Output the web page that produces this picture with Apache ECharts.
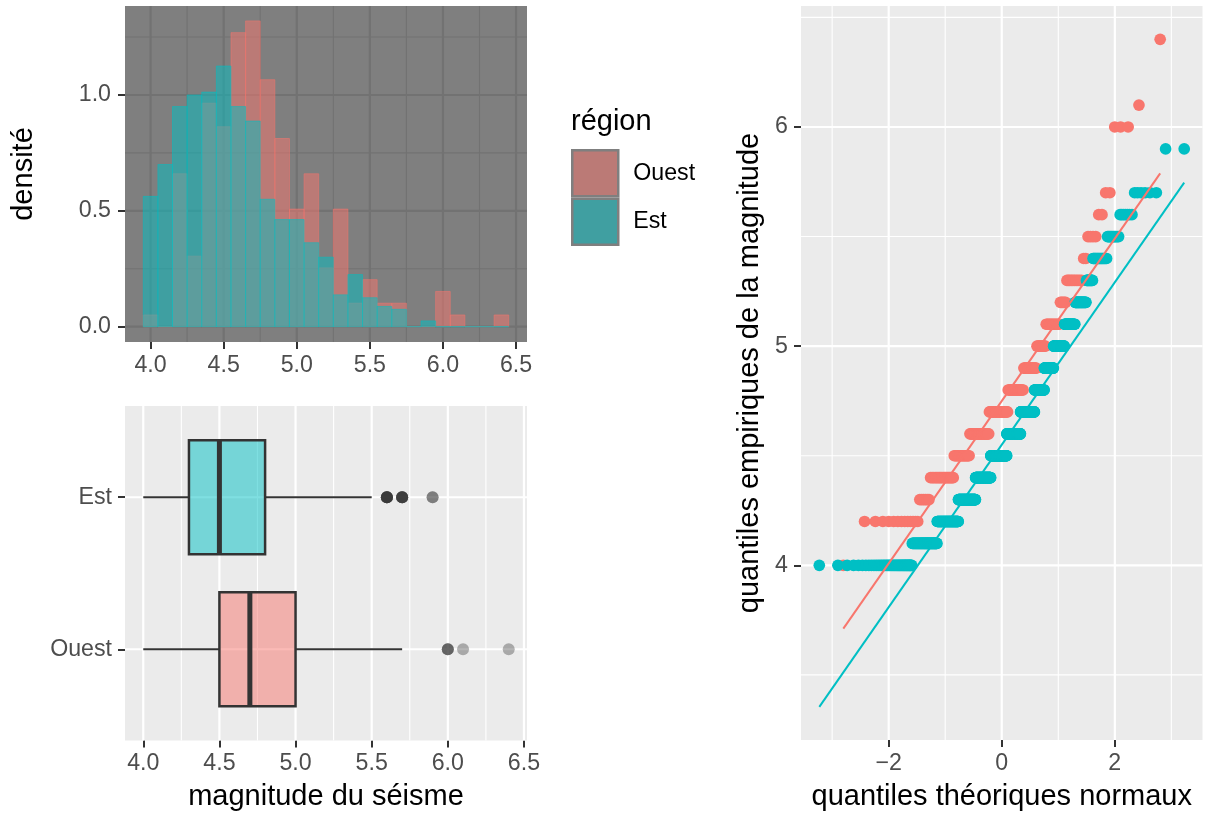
<!DOCTYPE html>
<html><head><meta charset="utf-8">
<script src="https://cdn.jsdelivr.net/npm/echarts@6/dist/echarts.min.js"></script>
<style>html,body{margin:0;padding:0;background:#fff}#c{width:1205px;height:816px}</style>
</head><body><div id="c"></div>
<script>
// ---------------- data ----------------
const regions = ['Ouest', 'Est'];
const magnitudes = [4.0,4.1,4.2,4.3,4.4,4.5,4.6,4.7,4.8,4.9,5.0,5.1,5.2,5.3,5.4,5.5,5.6,5.7,5.8,5.9,6.0,6.1,6.2,6.3,6.4];
const countsOuest = [1,0,13,6,19,17,25,26,21,16,10,13,5,10,2,4,2,2,0,0,3,1,0,0,1];
const countsEst   = [45,56,76,80,81,90,76,71,44,37,37,29,24,11,18,10,7,6,0,2,0,0,0,0,0];
const binWidth = 0.1;
const magTicks = [4.0,4.5,5.0,5.5,6.0,6.5];
const magMinor = [4.25,4.75,5.25,5.75,6.25];
const densTicks = [0,0.5,1.0];
const densMinor = [0.25,0.75,1.25];
const boxPositions = [1, 2];           // Ouest, Est
const qqXTicks = [-2,0,2];
const qqXMinor = [-3,-1,1,3];
const qqYTicks = [4,5,6];
const qqYMinor = [3.5,4.5,5.5,6.5];

const colOuest = '#F8766D', colEst = '#00BFC4';
const FONT = "'Liberation Sans', Arial, Helvetica, sans-serif";

// ---------------- stats helpers ----------------
function expand(counts){ const out=[]; counts.forEach((c,i)=>{for(let k=0;k<c;k++) out.push(magnitudes[i]);}); return out; }
function quant7(s,p){ const h=(s.length-1)*p, lo=Math.floor(h); const hi=Math.min(lo+1,s.length-1); return s[lo]+(h-lo)*(s[hi]-s[lo]); }
function qnorm(p){
 const a=[-3.969683028665376e+01,2.209460984245205e+02,-2.759285104469687e+02,1.383577518672690e+02,-3.066479806614716e+01,2.506628277459239e+00];
 const b=[-5.447609879822406e+01,1.615858368580409e+02,-1.556989798598866e+02,6.680131188771972e+01,-1.328068155288572e+01];
 const c=[-7.784894002430293e-03,-3.223964580411365e-01,-2.400758277161838e+00,-2.549732539343734e+00,4.374664141464968e+00,2.938163982698783e+00];
 const d=[7.784695709041462e-03,3.224671290700398e-01,2.445134137142996e+00,3.754408661907416e+00];
 const pl=0.02425, ph=1-pl; let q,r;
 if(p<pl){q=Math.sqrt(-2*Math.log(p));return (((((c[0]*q+c[1])*q+c[2])*q+c[3])*q+c[4])*q+c[5])/((((d[0]*q+d[1])*q+d[2])*q+d[3])*q+1);}
 if(p>ph){q=Math.sqrt(-2*Math.log(1-p));return -(((((c[0]*q+c[1])*q+c[2])*q+c[3])*q+c[4])*q+c[5])/((((d[0]*q+d[1])*q+d[2])*q+d[3])*q+1);}
 q=p-0.5;r=q*q;return (((((a[0]*r+a[1])*r+a[2])*r+a[3])*r+a[4])*r+a[5])*q/(((((b[0]*r+b[1])*r+b[2])*r+b[3])*r+b[4])*r+1);
}
function boxStats(s){
  const q1=quant7(s,0.25), med=quant7(s,0.5), q3=quant7(s,0.75), iqr=q3-q1;
  const loF=q1-1.5*iqr-1e-9, hiF=q3+1.5*iqr+1e-9;
  const inside=s.filter(v=>v>=loF&&v<=hiF);
  return {q1,med,q3,lo:inside[0],hi:inside[inside.length-1],out:s.filter(v=>v<loF||v>hiF)};
}
function qqPoints(s){ const n=s.length; return s.map((v,i)=>[qnorm((i+1-0.5)/n), v]); }
function qqLine(s){
  const n=s.length, x1=qnorm(0.25), x2=qnorm(0.75), y1=quant7(s,0.25), y2=quant7(s,0.75);
  const sl=(y2-y1)/(x2-x1), ic=y1-sl*x1, xa=qnorm(0.5/n), xb=qnorm((n-0.5)/n);
  return [[xa, ic+sl*xa],[xb, ic+sl*xb]];
}

const sO = expand(countsOuest), sE = expand(countsEst);
const densO = magnitudes.map((m,i)=>[m, countsOuest[i]/(sO.length*binWidth)]);
const densE = magnitudes.map((m,i)=>[m, countsEst[i]/(sE.length*binWidth)]);
const bO = boxStats(sO), bE = boxStats(sE);

// ---------------- render helpers ----------------
function histRender(fill, stroke){
  return function(params, api){
    const x=api.value(0), d=api.value(1);
    const p0=api.coord([x-binWidth/2, d]), p1=api.coord([x+binWidth/2, 0]);
    return {type:'rect', shape:{x:p0[0], y:p0[1], width:p1[0]-p0[0], height:p1[1]-p0[1]},
            style:{fill:fill, stroke:stroke, lineWidth:1}};
  };
}
function gridLines(xi, yi, xMaj, xMin, yMaj, yMin, color, wMaj, wMin){
  const data=[];
  xMin.forEach(v=>data.push([v,0,0])); yMin.forEach(v=>data.push([v,1,0]));
  xMaj.forEach(v=>data.push([v,0,1])); yMaj.forEach(v=>data.push([v,1,1]));
  return {type:'custom', xAxisIndex:xi, yAxisIndex:yi, z:1, silent:true, data:data,
    renderItem:function(params, api){
      const v=api.value(0), o=api.value(1), maj=api.value(2), cs=params.coordSys;
      let shape;
      if(o===0){ const px=api.coord([v, 0])[0]; shape={x1:px,y1:cs.y,x2:px,y2:cs.y+cs.height}; }
      else { const py=api.coord([0, v])[1]; shape={x1:cs.x,y1:py,x2:cs.x+cs.width,y2:py}; }
      return {type:'line', shape:shape, style:{stroke:color, lineWidth: maj?wMaj:wMin}};
    }};
}
function boxRender(fill){
  return function(params, api){
    const y=api.value(0), lo=api.value(1), q1=api.value(2), med=api.value(3), q3=api.value(4), hi=api.value(5);
    const cy=api.coord([q1,y])[1], top=api.coord([q1,y+0.375])[1], bot=api.coord([q1,y-0.375])[1];
    const X=v=>api.coord([v,y])[0];
    const ln='#333333';
    return {type:'group', children:[
      {type:'line', shape:{x1:X(lo),y1:cy,x2:X(q1),y2:cy}, style:{stroke:ln,lineWidth:2}},
      {type:'line', shape:{x1:X(q3),y1:cy,x2:X(hi),y2:cy}, style:{stroke:ln,lineWidth:2}},
      {type:'rect', shape:{x:X(q1),y:top,width:X(q3)-X(q1),height:bot-top}, style:{fill:fill,stroke:ln,lineWidth:2.5}},
      {type:'line', shape:{x1:X(med),y1:top,x2:X(med),y2:bot}, style:{stroke:ln,lineWidth:5}}
    ]};
  };
}

const tickStyle = {length:7, lineStyle:{color:'#333333', width:2}};
const labStyle = {fontSize:23.2, color:'#4d4d4d', fontFamily:FONT};
const nameStyle = {fontSize:29, color:'#000000', fontFamily:FONT};
const noLine = {show:false, onZero:false};
const fmt1 = v=>Number(v).toFixed(1);

const outliers = [];
bO.out.forEach(v=>outliers.push([v, boxPositions[0]]));
bE.out.forEach(v=>outliers.push([v, boxPositions[1]]));

const option = {
  animation:false,
  textStyle:{fontFamily:FONT},
  title:{text:'région', left:571, top:107, padding:0, textStyle:{fontSize:29, fontWeight:'normal', color:'#000', fontFamily:FONT}},
  legend:{left:571, top:149, orient:'vertical', itemWidth:46, itemHeight:46, itemGap:0, icon:'rect', padding:0,
    selectedMode:false,
    itemStyle:{borderColor:'#7f7f7f', borderWidth:2.5},
    textStyle:{fontSize:23.2, color:'#000', fontFamily:FONT, padding:[0,0,0,10]},
    data:[{name:'Ouest', itemStyle:{color:'#bb7a76'}},{name:'Est', itemStyle:{color:'#409fa1'}}]},
  grid:[
    {left:125, top:6, width:402, height:336, show:true, backgroundColor:'#7f7f7f', borderWidth:0},
    {left:125, top:406, width:402, height:334.5, show:true, backgroundColor:'#ebebeb', borderWidth:0},
    {left:801, top:6, width:401.5, height:735, show:true, backgroundColor:'#ebebeb', borderWidth:0}
  ],
  xAxis:[
    {gridIndex:0, type:'value', min:3.825, max:6.575, axisLine:noLine, splitLine:{show:false},
     axisTick:Object.assign({customValues:magTicks}, tickStyle),
     axisLabel:Object.assign({customValues:magTicks, formatter:fmt1, margin:12}, labStyle)},
    {gridIndex:1, type:'value', min:3.88, max:6.52, axisLine:noLine, splitLine:{show:false},
     axisTick:Object.assign({customValues:magTicks}, tickStyle),
     axisLabel:Object.assign({customValues:magTicks, formatter:fmt1, margin:12}, labStyle),
     name:'magnitude du séisme', nameLocation:'middle', nameGap:42, nameTextStyle:nameStyle},
    {gridIndex:2, type:'value', min:-3.551, max:3.551, axisLine:noLine, splitLine:{show:false},
     axisTick:Object.assign({customValues:qqXTicks}, tickStyle),
     axisLabel:Object.assign({customValues:qqXTicks, formatter:v=>v<0?'\u2212'+Math.abs(v):String(v), margin:12}, labStyle),
     name:'quantiles théoriques normaux', nameLocation:'middle', nameGap:42, nameTextStyle:nameStyle}
  ],
  yAxis:[
    {gridIndex:0, type:'value', min:-0.066, max:1.384, axisLine:noLine, splitLine:{show:false},
     axisTick:Object.assign({customValues:densTicks}, tickStyle),
     axisLabel:Object.assign({customValues:densTicks, formatter:fmt1, margin:14}, labStyle),
     name:'densité', nameLocation:'middle', nameRotate:90, nameGap:87, nameTextStyle:nameStyle},
    {gridIndex:1, type:'value', min:0.4, max:2.6, axisLine:noLine, splitLine:{show:false},
     axisTick:Object.assign({customValues:boxPositions}, tickStyle),
     axisLabel:Object.assign({customValues:boxPositions, formatter:v=>regions[boxPositions.indexOf(Math.round(v))], margin:13}, labStyle)},
    {gridIndex:2, type:'value', min:3.203, max:6.552, axisLine:noLine, splitLine:{show:false},
     axisTick:Object.assign({customValues:qqYTicks}, tickStyle),
     axisLabel:Object.assign({customValues:qqYTicks, formatter:v=>String(v), margin:13}, labStyle),
     name:'quantiles empiriques de la magnitude', nameLocation:'middle', nameRotate:90, nameGap:37, nameTextStyle:nameStyle}
  ],
  series:[
    gridLines(0,0,magTicks,magMinor,densTicks,densMinor,'#727272',2.2,1.1),
    gridLines(1,1,magTicks,magMinor,boxPositions,[],'#ffffff',2.2,1.1),
    gridLines(2,2,qqXTicks,qqXMinor,qqYTicks,qqYMinor,'#ffffff',2.2,1.1),
    {type:'custom', name:'Ouest', xAxisIndex:0, yAxisIndex:0, z:2, data:densO, itemStyle:{color:'#bb7a76'},
     renderItem:histRender('rgba(248,118,109,0.5)','rgba(248,118,109,0.5)')},
    {type:'custom', name:'Est', xAxisIndex:0, yAxisIndex:0, z:2, data:densE, itemStyle:{color:'#409fa1'},
     renderItem:histRender('rgba(0,191,196,0.5)','rgba(0,191,196,0.5)')},
    {type:'custom', name:'boxOuest', xAxisIndex:1, yAxisIndex:1, z:2,
     data:[[boxPositions[0], bO.lo, bO.q1, bO.med, bO.q3, bO.hi]], renderItem:boxRender('rgba(248,118,109,0.5)')},
    {type:'custom', name:'boxEst', xAxisIndex:1, yAxisIndex:1, z:2,
     data:[[boxPositions[1], bE.lo, bE.q1, bE.med, bE.q3, bE.hi]], renderItem:boxRender('rgba(0,191,196,0.5)')},
    {type:'scatter', name:'outliers', xAxisIndex:1, yAxisIndex:1, z:3, data:outliers, symbolSize:12,
     itemStyle:{color:'#333333', opacity:0.36}},
    {type:'scatter', name:'qqOuest', xAxisIndex:2, yAxisIndex:2, z:2, data:qqPoints(sO), symbolSize:11.7,
     itemStyle:{color:colOuest, opacity:1}},
    {type:'scatter', name:'qqEst', xAxisIndex:2, yAxisIndex:2, z:2, data:qqPoints(sE), symbolSize:11.7,
     itemStyle:{color:colEst, opacity:1}},
    {type:'line', name:'lineOuest', xAxisIndex:2, yAxisIndex:2, z:3, data:qqLine(sO), showSymbol:false,
     lineStyle:{color:colOuest, width:2}},
    {type:'line', name:'lineEst', xAxisIndex:2, yAxisIndex:2, z:3, data:qqLine(sE), showSymbol:false,
     lineStyle:{color:colEst, width:2}}
  ]
};
const chart = echarts.init(document.getElementById('c'), null, {renderer:'canvas'});
chart.setOption(option);
</script></body></html>
